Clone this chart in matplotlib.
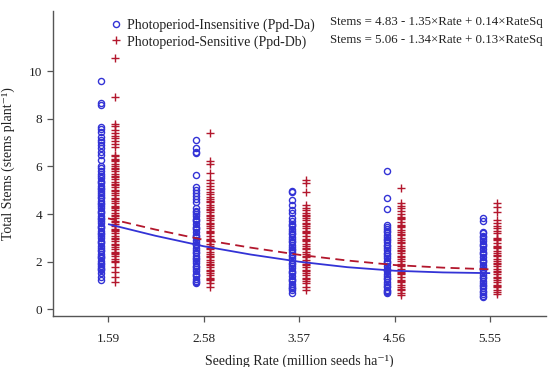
import matplotlib
matplotlib.use("Agg")
import matplotlib.pyplot as plt
from matplotlib.lines import Line2D

plt.rcParams['font.family'] = ['Liberation Serif', 'DejaVu Serif']

# ---- data ----
rates = [1.59, 2.58, 3.57, 4.56, 5.55]
rate_labels = ["1.59", "2.58", "3.57", "4.56", "5.55"]

insens_1 = [9.57, 8.65, 8.58, 7.65, 7.56, 7.46, 7.25, 7.11, 7.04, 6.90, 6.76, 6.62, 6.48, 6.27,
            6.02, 5.93, 5.81, 5.70, 5.62, 5.50, 5.41, 5.30, 5.19, 5.10, 4.98, 4.87, 4.79, 4.66,
            4.55, 4.47, 4.35, 4.24, 4.15, 4.03, 3.92, 3.84, 3.72, 3.61, 3.52, 3.40, 3.29, 3.21,
            3.09, 2.98, 2.89, 2.77, 2.66, 2.57, 2.45, 2.34, 2.26, 2.14, 2.03, 1.95, 1.83, 1.74,
            1.65, 1.51, 1.37, 1.23,
            5.35, 5.04, 4.72, 4.41, 4.09, 3.78, 3.46, 3.15, 2.83, 2.51, 2.20, 1.89, 1.70]
insens_2 = [7.11, 6.76, 6.62, 6.55, 5.64, 5.15, 5.00, 4.88, 4.75, 4.62, 4.52, 4.24, 4.13, 4.02,
            3.91, 3.80, 3.69, 3.58, 3.47, 3.36, 3.25, 3.14, 3.03, 2.92, 2.81, 2.70, 2.59, 2.48,
            2.37, 2.26, 2.15, 2.04, 1.93, 1.82, 1.71, 1.60, 1.49, 1.38, 1.27, 1.18, 1.09,
            4.07, 3.75, 3.41, 3.08, 2.75, 2.42, 2.10, 1.77, 1.43, 1.13]
insens_3 = [4.98, 4.92, 4.59, 4.38, 4.17, 4.03, 3.82, 3.71, 3.60, 3.49, 3.38, 3.27, 3.16, 3.05,
            2.94, 2.83, 2.72, 2.61, 2.50, 2.39, 2.28, 2.17, 2.06, 1.95, 1.84, 1.73, 1.62, 1.51,
            1.40, 1.29, 1.18, 1.07, 0.96, 0.88, 0.81, 0.67,
            3.55, 3.21, 2.88, 2.55, 2.22, 1.89, 1.56, 1.23, 0.91]
insens_4 = [5.82, 4.66, 4.20, 3.54, 3.45, 3.36, 3.25, 3.14, 3.03, 2.92, 2.81, 2.70, 2.59, 2.48,
            2.37, 2.26, 2.15, 2.04, 1.93, 1.82, 1.71, 1.60, 1.49, 1.38, 1.27, 1.16, 1.05, 0.94,
            0.83, 0.75, 0.67,
            3.30, 2.97, 2.64, 2.31, 1.98, 1.65, 1.32, 0.99, 0.71]
insens_5 = [3.82, 3.71, 3.26, 3.19, 3.08, 2.97, 2.86, 2.75, 2.64, 2.53, 2.42, 2.31, 2.20, 2.09,
            1.98, 1.87, 1.76, 1.65, 1.54, 1.43, 1.32, 1.21, 1.10, 0.99, 0.88, 0.77, 0.66, 0.58,
            0.53,
            3.02, 2.69, 2.36, 2.03, 1.70, 1.37, 1.04, 0.72]

sens_1 = [10.55, 8.90, 7.80, 7.68, 7.55, 7.42, 7.30, 7.18, 7.05, 6.94, 6.83, 6.50, 6.42, 6.33,
          6.21, 6.10, 6.00, 5.88, 5.79, 5.67, 5.55, 5.46, 5.34, 5.22, 5.13, 5.01, 4.90, 4.81,
          4.69, 4.57, 4.48, 4.36, 4.25, 4.16, 4.04, 3.93, 3.84, 3.72, 3.60, 3.51, 3.39, 3.28,
          3.19, 3.07, 2.96, 2.87, 2.75, 2.63, 2.54, 2.42, 2.31, 2.22, 2.10, 2.00, 1.79, 1.58,
          1.37, 1.16,
          6.26, 5.94, 5.61, 5.28, 4.96, 4.63, 4.30, 3.98, 3.66, 3.33, 3.01, 2.69, 2.36, 2.05]
sens_2 = [7.39, 6.24, 6.10, 5.71, 5.43, 5.30, 5.18, 5.05, 4.92, 4.83, 4.73, 4.62, 4.51, 4.40,
          4.29, 4.18, 4.07, 3.96, 3.85, 3.74, 3.63, 3.52, 3.41, 3.30, 3.19, 3.08, 2.97, 2.86,
          2.75, 2.64, 2.53, 2.42, 2.31, 2.20, 2.09, 1.98, 1.87, 1.76, 1.65, 1.54, 1.43, 1.33,
          1.23, 1.09, 0.95,
          4.56, 4.23, 3.90, 3.57, 3.24, 2.91, 2.58, 2.25, 1.92, 1.59, 1.28]
sens_3 = [5.43, 5.29, 4.94, 4.38, 4.27, 4.16, 4.05, 3.96, 3.85, 3.74, 3.63, 3.52, 3.41, 3.30,
          3.19, 3.08, 2.97, 2.86, 2.75, 2.64, 2.53, 2.42, 2.31, 2.20, 2.09, 1.98, 1.87, 1.76,
          1.65, 1.54, 1.43, 1.32, 1.21, 1.09, 0.95, 0.81,
          3.90, 3.57, 3.24, 2.91, 2.58, 2.25, 1.92, 1.59, 1.26]
sens_4 = [5.08, 4.48, 4.36, 4.24, 4.12, 4.00, 3.89, 3.78, 3.67, 3.56, 3.45, 3.34, 3.23, 3.12,
          3.01, 2.90, 2.79, 2.68, 2.57, 2.46, 2.35, 2.24, 2.13, 2.02, 1.91, 1.80, 1.69, 1.58,
          1.47, 1.36, 1.25, 1.14, 1.03, 0.92, 0.81, 0.70, 0.60,
          3.83, 3.50, 3.17, 2.84, 2.51, 2.18, 1.85, 1.52, 1.19, 0.86]
sens_5 = [4.45, 4.29, 4.10, 3.75, 3.63, 3.51, 3.40, 3.29, 3.20, 3.00, 2.90, 2.79, 2.68, 2.57,
          2.46, 2.35, 2.24, 2.13, 2.02, 1.91, 1.80, 1.69, 1.58, 1.47, 1.36, 1.25, 1.14, 1.03,
          0.92, 0.83, 0.74, 0.64,
          2.95, 2.62, 2.29, 1.96, 1.63, 1.30, 0.97]

insens_cols = [insens_1, insens_2, insens_3, insens_4, insens_5]
sens_cols = [sens_1, sens_2, sens_3, sens_4, sens_5]

# fitted curves
fit_x = [1.59, 2.08, 2.58, 3.07, 3.57, 4.07, 4.56, 5.06, 5.55]
fit_insens = [3.58, 3.09, 2.65, 2.30, 2.00, 1.77, 1.62, 1.55, 1.52]
fit_sens = [3.82, 3.35, 2.92, 2.59, 2.29, 2.05, 1.86, 1.75, 1.68]

label_insens = "Photoperiod-Insensitive (Ppd-Da)"
label_sens = "Photoperiod-Sensitive (Ppd-Db)"
eq_insens = "Stems = 4.83 - 1.35×Rate + 0.14×RateSq"
eq_sens = "Stems = 5.06 - 1.34×Rate + 0.13×RateSq"

BLUE = "#3333d6"
RED = "#b3172d"
offset_insens = -0.075
offset_sens = 0.07

fig = plt.figure(figsize=(5.5, 3.67), dpi=100)
ax = fig.add_axes([0.097, 0.139, 0.896, 0.831])

for r, vals in zip(rates, insens_cols):
    ax.plot([r + offset_insens] * len(vals), vals, linestyle='none', marker='o',
            markersize=4.4, markerfacecolor='none', markeredgecolor=BLUE, markeredgewidth=1.0)
for r, vals in zip(rates, sens_cols):
    ax.plot([r + offset_sens] * len(vals), vals, linestyle='none', marker='+',
            markersize=5.8, color=RED, markeredgewidth=1.0)

ax.plot(fit_x, fit_insens, color=BLUE, linewidth=1.3, solid_capstyle='butt')
ax.plot(fit_x, fit_sens, color=RED, linewidth=1.3, dashes=(5, 3))

ax.set_xlim(1.023, 6.13)
ax.set_ylim(-0.28, 12.53)
ax.set_xticks(rates)
ax.set_xticklabels(rate_labels)
ax.set_yticks([0, 2, 4, 6, 8, 10])

for s in ['top', 'right']:
    ax.spines[s].set_visible(False)
for s in ['left', 'bottom']:
    ax.spines[s].set_color('#555555')
    ax.spines[s].set_linewidth(1.0)
ax.tick_params(axis='both', direction='out', length=4, width=0.9, color='#555555',
               labelsize=9.5, labelcolor='#222222')
ax.tick_params(axis='x', pad=8)
ax.tick_params(axis='y', pad=4)

ax.set_xlabel("Seeding Rate (million seeds ha⁻¹)", fontsize=10, color='#222222', labelpad=7)
ax.set_ylabel("Total Stems (stems plant⁻¹)", fontsize=10, color='#222222', labelpad=10)

handles = [
    Line2D([], [], linestyle='none', marker='o', markersize=4.4, markerfacecolor='none',
           markeredgecolor=BLUE, markeredgewidth=1.0),
    Line2D([], [], linestyle='none', marker='+', markersize=5.8, color=RED, markeredgewidth=1.0),
]
leg = ax.legend(handles, [label_insens, label_sens], loc='upper left',
                bbox_to_anchor=(0.107, 0.995), frameon=False, fontsize=10,
                handlelength=0.6, handletextpad=0.5, labelspacing=0.25, borderaxespad=0)
for t in leg.get_texts():
    t.set_color('#222222')

fig.text(330 / 550, 1 - 22 / 367, eq_insens, fontsize=9.3, color='#222222', va='center', ha='left')
fig.text(330 / 550, 1 - 40 / 367, eq_sens, fontsize=9.3, color='#222222', va='center', ha='left')

fig.savefig("out.png", dpi=100)
